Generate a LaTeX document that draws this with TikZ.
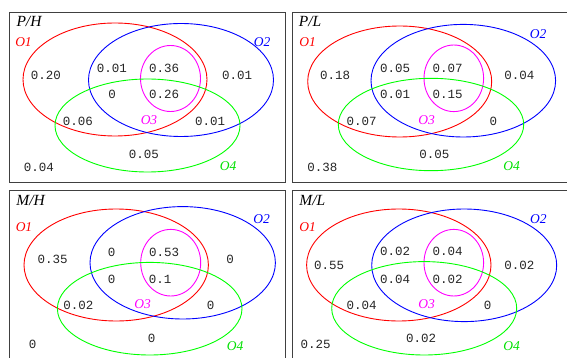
\documentclass[tikz,border=0pt]{standalone}
\usepackage{fontspec}
\setmainfont{Liberation Serif}
\setmonofont{Liberation Mono}
\definecolor{cred}{RGB}{255,0,0}
\definecolor{cblue}{RGB}{0,0,255}
\definecolor{cmag}{RGB}{255,0,255}
\definecolor{cgreen}{RGB}{0,255,0}
\definecolor{cgreenlab}{RGB}{0,225,0}
\begin{document}
\begin{tikzpicture}[x=1pt,y=-1pt,
  panel/.style={draw=black!75,line width=0.9pt},
  ring/.style={line width=0.9pt},
  val/.style={font=\fontsize{12.5}{13}\selectfont\ttfamily,text=black!85,inner sep=0pt,anchor=center},
  ttl/.style={font=\fontsize{15.5}{16}\selectfont\itshape,inner sep=0pt,anchor=center},
  lab/.style={font=\fontsize{13.5}{14}\selectfont\itshape,inner sep=0pt,anchor=center},
  l1/.style={lab,text=cred},
  l2/.style={lab,text=cblue},
  l3/.style={lab,text=cmag},
  l4/.style={lab,text=cgreenlab}]
\useasboundingbox (0,0) rectangle (567,358);
\clip (0,0) rectangle (567,358);
\fill[white] (0,0) rectangle (567,358);
% panel boxes
\draw[panel] (9,12.3) rectangle (285.7,182.5);
\draw[panel] (292.3,12.3) rectangle (569.5,182.5);
\draw[panel] (9,190) rectangle (285.7,362);
\draw[panel] (292.3,190) rectangle (569.5,362);

% ---------- P/H ----------
\draw[ring,cred] (115,79.5) ellipse [x radius=92pt,y radius=56.5pt];
\draw[ring,cblue] (181,80) ellipse [x radius=92.5pt,y radius=56.5pt];
\draw[ring,cmag] (170.5,78.5) ellipse [x radius=30pt,y radius=33pt];
\draw[ring,cgreen] (147.5,125.5) ellipse [x radius=92.5pt,y radius=46.5pt];
\node[ttl] (t1) at (29,21) {P/H};
\node[l1] (a1) at (23.5,42) {O1};
\node[l2] (b1) at (262,42) {O2};
\node[l3] (c1) at (149,120) {O3};
\node[l4] (d1) at (228,166) {O4};
\node[val] (v1a) at (46,75) {0.20};
\node[val] (v1b) at (112,68) {0.01};
\node[val] (v1c) at (164,68) {0.36};
\node[val] (v1d) at (237,75) {0.01};
\node[val] (v1e) at (112,94) {0};
\node[val] (v1f) at (164,94) {0.26};
\node[val] (v1g) at (78,121) {0.06};
\node[val] (v1h) at (210,121) {0.01};
\node[val] (v1i) at (144,154) {0.05};
\node[val] (v1j) at (39,167) {0.04};

% ---------- P/L ----------
\draw[ring,cred] (399.7,81.5) ellipse [x radius=92pt,y radius=55.5pt];
\draw[ring,cblue] (463.3,80.7) ellipse [x radius=92.3pt,y radius=56.3pt];
\draw[ring,cmag] (453.8,78.3) ellipse [x radius=29.8pt,y radius=33.3pt];
\draw[ring,cgreen] (431,124.5) ellipse [x radius=92.7pt,y radius=46.2pt];
\node[ttl] (t2) at (310,21) {P/L};
\node[l1] (a2) at (307.5,42) {O1};
\node[l2] (b2) at (538,34) {O2};
\node[l3] (c2) at (426.7,120) {O3};
\node[l4] (d2) at (511.7,166) {O4};
\node[val] (v2a) at (335,75) {0.18};
\node[val] (v2b) at (395,68) {0.05};
\node[val] (v2c) at (447.7,68) {0.07};
\node[val] (v2d) at (519.3,75) {0.04};
\node[val] (v2e) at (395,94) {0.01};
\node[val] (v2f) at (447.7,94) {0.15};
\node[val] (v2g) at (361.7,121) {0.07};
\node[val] (v2h) at (493.3,121) {0};
\node[val] (v2i) at (434.3,154) {0.05};
\node[val] (v2j) at (322.3,167) {0.38};

% ---------- M/H ----------
\draw[ring,cred] (116.2,265) ellipse [x radius=92.2pt,y radius=56pt];
\draw[ring,cblue] (182.7,262.8) ellipse [x radius=92.7pt,y radius=56.2pt];
\draw[ring,cmag] (170.7,262.7) ellipse [x radius=30pt,y radius=33.3pt];
\draw[ring,cgreen] (149.7,308.7) ellipse [x radius=92.3pt,y radius=46.3pt];
\node[ttl] (t3) at (30.7,200) {M/H};
\node[l1] (a3) at (24,226.7) {O1};
\node[l2] (b3) at (261.7,219.3) {O2};
\node[l3] (c3) at (142.7,304.3) {O3};
\node[l4] (d3) at (235,345.7) {O4};
\node[val] (v3a) at (52.7,259) {0.35};
\node[val] (v3b) at (111.7,252.7) {0};
\node[val] (v3c) at (164,252.7) {0.53};
\node[val] (v3d) at (230,259) {0};
\node[val] (v3e) at (111.7,279.3) {0};
\node[val] (v3f) at (160,279.3) {0.1};
\node[val] (v3g) at (78.3,305) {0.02};
\node[val] (v3h) at (210.7,305) {0};
\node[val] (v3i) at (151.7,338.3) {0};
\node[val] (v3j) at (32.7,344) {0};

% ---------- M/L ----------
\draw[ring,cred] (398.8,265) ellipse [x radius=92.2pt,y radius=56pt];
\draw[ring,cblue] (464.2,265.3) ellipse [x radius=92.5pt,y radius=56.3pt];
\draw[ring,cmag] (453.8,262.7) ellipse [x radius=29.8pt,y radius=33.3pt];
\draw[ring,cgreen] (424.2,308.3) ellipse [x radius=92.5pt,y radius=46.7pt];
\node[ttl] (t4) at (312.3,200) {M/L};
\node[l1] (a4) at (307.7,226.7) {O1};
\node[l2] (b4) at (538.3,219.3) {O2};
\node[l3] (c4) at (426.7,304.3) {O3};
\node[l4] (d4) at (511.7,345.7) {O4};
\node[val] (v4a) at (329,265) {0.55};
\node[val] (v4b) at (395,251.7) {0.02};
\node[val] (v4c) at (447.7,251.7) {0.04};
\node[val] (v4d) at (519.3,265) {0.02};
\node[val] (v4e) at (395,279) {0.04};
\node[val] (v4f) at (447.7,279) {0.02};
\node[val] (v4g) at (361.7,305) {0.04};
\node[val] (v4h) at (487.7,305) {0};
\node[val] (v4i) at (421,338.3) {0.02};
\node[val] (v4j) at (315.7,344) {0.25};
\end{tikzpicture}
\end{document}
